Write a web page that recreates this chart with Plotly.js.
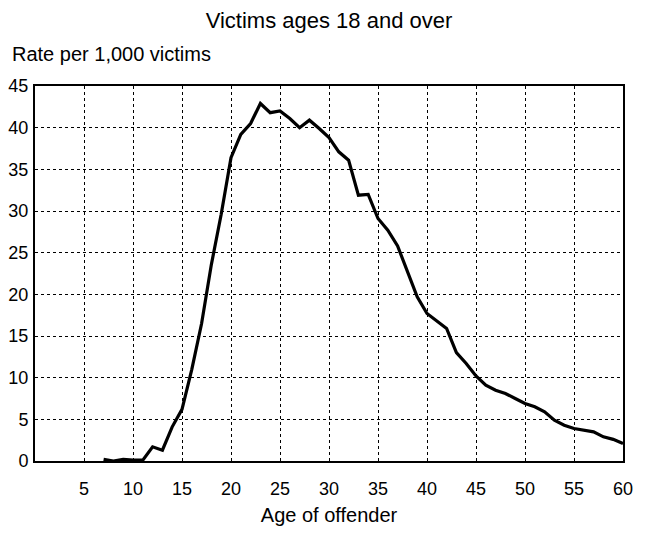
<!DOCTYPE html>
<html>
<head>
<meta charset="utf-8">
<script src="https://cdn.plot.ly/plotly-3.0.1.min.js"></script>
<style>html,body{margin:0;padding:0;background:#fff;}#chart{width:653px;height:537px;}</style>
</head>
<body>
<div id="chart"></div>
<script>
const chartTitle = "Victims ages 18 and over";
const yAxisTitle = "Rate per 1,000 victims";
const xAxisTitle = "Age of offender";

const ages = [7, 8, 9, 10, 11, 12, 13, 14, 15, 16, 17, 18, 19, 20,
  21, 22, 23, 24, 25, 26, 27, 28, 29, 30, 31, 32, 33, 34, 35, 36, 37, 38, 39, 40,
  41, 42, 43, 44, 45, 46, 47, 48, 49, 50, 51, 52, 53, 54, 55, 56, 57, 58, 59, 60];
const rates = [0.2, 0.0, 0.2, 0.1, 0.1, 1.7, 1.3, 4.1, 6.2, 11.0, 16.5, 23.6, 29.6, 36.4,
  39.2, 40.5, 42.9, 41.8, 42.0, 41.1, 40.0, 40.9, 39.9, 38.8, 37.1, 36.1, 31.9, 32.0, 29.1, 27.7, 25.8, 22.7, 19.7, 17.7,
  16.8, 15.9, 13.0, 11.7, 10.2, 9.1, 8.5, 8.1, 7.5, 6.9, 6.5, 5.9, 4.9, 4.3, 3.9, 3.7, 3.5, 2.9, 2.6, 2.1];

const xTickVals = [5, 10, 15, 20, 25, 30, 35, 40, 45, 50, 55, 60];
const xTickText = ["5", "10", "15", "20", "25", "30", "35", "40", "45", "50", "55", "60"];
const yTickVals = [0, 5, 10, 15, 20, 25, 30, 35, 40, 45];
const yTickText = ["0", "5", "10", "15", "20", "25", "30", "35", "40", "45"];

const FONT = "Liberation Sans, Arial, sans-serif";

const trace = {
  x: ages,
  y: rates,
  type: "scatter",
  mode: "lines",
  line: {color: "#000", width: 3.2},
  hoverinfo: "x+y"
};

const layout = {
  width: 653,
  height: 537,
  margin: {l: 35, r: 30, t: 86, b: 76},
  paper_bgcolor: "#fff",
  plot_bgcolor: "#fff",
  showlegend: false,
  font: {family: FONT, color: "#000", size: 18},
  title: {
    text: chartTitle,
    font: {family: FONT, size: 22, color: "#000"},
    x: 0.5, xref: "paper", xanchor: "center",
    y: 1 - 20.5 / 537, yref: "container", yanchor: "middle"
  },
  xaxis: {
    range: [0, 60],
    tickvals: xTickVals,
    ticktext: xTickText,
    showgrid: true,
    gridcolor: "#000",
    gridwidth: 1,
    griddash: "dot",
    zeroline: false,
    showline: true,
    mirror: true,
    linecolor: "#000",
    linewidth: 2,
    ticks: "",
    ticklabelstandoff: 10,
    tickfont: {family: FONT, size: 18, color: "#000"},
    title: {text: xAxisTitle, font: {family: FONT, size: 20, color: "#000"}, standoff: 10}
  },
  yaxis: {
    range: [0, 45],
    tickvals: yTickVals,
    ticktext: yTickText,
    showgrid: true,
    gridcolor: "#000",
    gridwidth: 1,
    griddash: "dot",
    zeroline: false,
    showline: true,
    mirror: true,
    linecolor: "#000",
    linewidth: 2,
    ticks: "",
    ticklabelstandoff: 1,
    tickfont: {family: FONT, size: 18, color: "#000"}
  },
  annotations: [{
    text: yAxisTitle,
    xref: "paper", yref: "paper",
    x: 0, y: 1,
    xanchor: "left", yanchor: "middle",
    xshift: -25, yshift: 32,
    showarrow: false,
    font: {family: FONT, size: 20, color: "#000"}
  }]
};

Plotly.newPlot("chart", [trace], layout, {displayModeBar: false, staticPlot: true});
</script>
</body>
</html>
